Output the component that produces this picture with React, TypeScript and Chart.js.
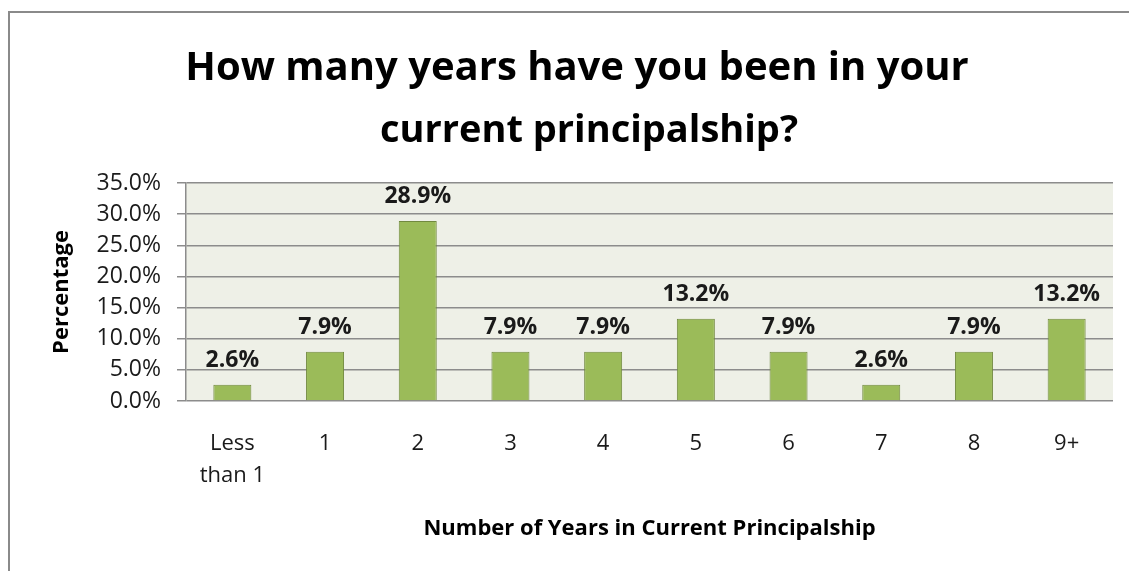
import React, { useEffect, useRef } from "react";
import { Chart, registerables } from "chart.js";

Chart.register(...registerables);

const categories: (string | string[])[] = [["Less", "than 1"], "1", "2", "3", "4", "5", "6", "7", "8", "9+"];
const percentages: number[] = [2.6, 7.9, 28.9, 7.9, 7.9, 13.2, 7.9, 2.6, 7.9, 13.2];
const titleLines: string[] = ["How many years have you been in your", "current principalship?"];
const yAxisTitle = "Percentage";
const xAxisTitle = "Number of Years in Current Principalship";

const FONT = "'Open Sans'";

const framePlugin = {
  id: "frame",
  beforeDraw(chart: any) {
    const { ctx, chartArea } = chart;
    ctx.save();
    ctx.fillStyle = "#ffffff";
    ctx.fillRect(0, 0, chart.width, chart.height);
    ctx.strokeStyle = "#8a8a8a";
    ctx.lineWidth = 2;
    ctx.beginPath();
    ctx.moveTo(9, chart.height);
    ctx.lineTo(9, 12);
    ctx.lineTo(chart.width, 12);
    ctx.stroke();
    ctx.fillStyle = "#EEF0E7";
    ctx.fillRect(chartArea.left, chartArea.top, chartArea.right - chartArea.left, chartArea.bottom - chartArea.top);
    ctx.restore();
  },
  afterDraw(chart: any) {
    const { ctx } = chart;
    ctx.save();
    ctx.fillStyle = "#000000";
    ctx.textAlign = "center";
    ctx.textBaseline = "alphabetic";
    ctx.font = `bold 40px ${FONT}`;
    ctx.fillText(titleLines[0], 577, 80);
    ctx.font = `bold 38px ${FONT}`;
    ctx.fillText(titleLines[1], 589, 142);
    ctx.restore();
  },
};

const labelPlugin = {
  id: "barLabels",
  afterDatasetsDraw(chart: any) {
    const { ctx } = chart;
    const meta = chart.getDatasetMeta(0);
    ctx.save();
    ctx.fillStyle = "#1a1a1a";
    ctx.font = `bold 23px ${FONT}`;
    ctx.textAlign = "center";
    ctx.textBaseline = "alphabetic";
    meta.data.forEach((bar: any, i: number) => {
      ctx.fillText(percentages[i].toFixed(1) + "%", bar.x, bar.y - 18);
    });
    ctx.restore();
  },
};

export default function App() {
  const ref = useRef<HTMLCanvasElement>(null);
  useEffect(() => {
    if (!ref.current) return;
    const chart = new Chart(ref.current, {
      type: "bar",
      data: {
        labels: categories as any,
        datasets: [
          {
            data: percentages,
            backgroundColor: "#9BBB59",
            borderColor: "#71893F",
            borderWidth: 1,
            categoryPercentage: 1,
            barPercentage: 0.41,
          },
        ],
      },
      options: {
        responsive: false,
        animation: false,
        layout: { padding: { top: 183, right: 16, bottom: 0, left: 0 } },
        plugins: {
          legend: { display: false },
          title: { display: false },
          tooltip: { enabled: false },
        },
        scales: {
          x: {
            afterFit(scale: any) {
              scale.height = 170;
            },
            grid: { display: false, drawTicks: false },
            border: { display: false },
            ticks: {
              color: "#1a1a1a",
              font: { family: FONT, size: 22, lineHeight: 1.45 },
              padding: 27,
              maxRotation: 0,
              autoSkip: false,
            },
            title: {
              display: true,
              text: xAxisTitle,
              color: "#000000",
              font: { family: FONT, size: 22, weight: "bold", lineHeight: 1.2 },
              padding: { top: 0, bottom: 29 },
            },
          },
          y: {
            min: 0,
            max: 35,
            afterFit(scale: any) {
              scale.width = 186;
            },
            ticks: {
              stepSize: 5,
              color: "#1a1a1a",
              font: { family: FONT, size: 23 },
              padding: 16,
              callback: (v: any) => Number(v).toFixed(1) + "%",
            },
            grid: { color: "#8c8c8c", lineWidth: 1.5, tickLength: 9, drawTicks: true },
            border: { display: true, color: "#8c8c8c", width: 1.5 },
            title: {
              display: true,
              text: yAxisTitle,
              color: "#000000",
              font: { family: FONT, size: 22, weight: "bold", lineHeight: 1.2 },
              padding: { top: 49, bottom: 0 },
            },
          },
        },
      },
      plugins: [framePlugin, labelPlugin],
    });
    return () => chart.destroy();
  }, []);
  return (
    <div style={{ position: "fixed", left: 0, top: 0, width: 1129, height: 571, background: "#fff" }}>
      <canvas ref={ref} width={1129} height={571} style={{ display: "block" }} />
    </div>
  );
}
